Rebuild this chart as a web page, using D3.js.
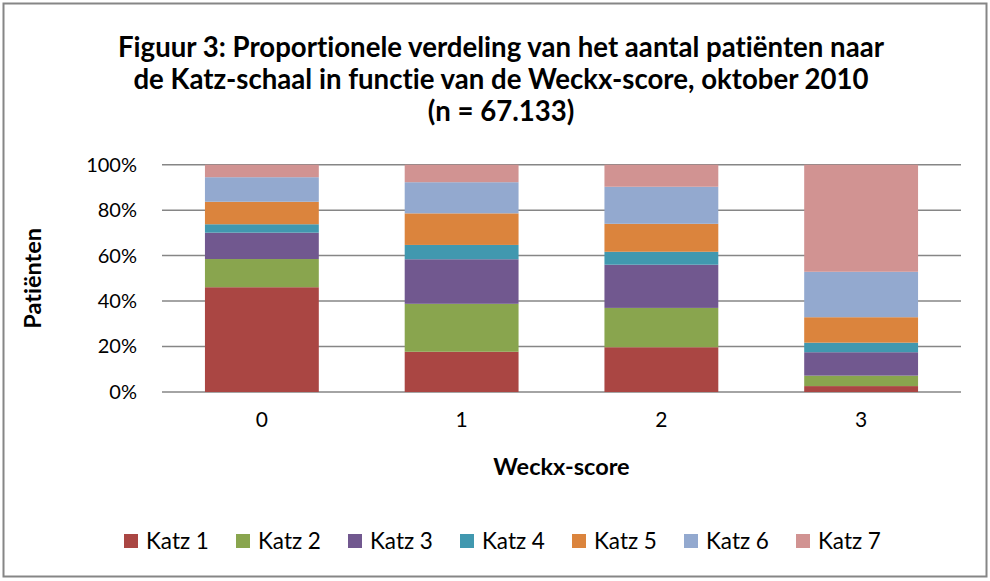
<!DOCTYPE html>
<html>
<head>
<meta charset="utf-8">
<script src="https://cdn.jsdelivr.net/npm/d3@7"></script>
<style>
  html, body { margin: 0; padding: 0; background: #fff; }
  svg { display: block; font-family: Lato, "Open Sans", sans-serif; font-variant-ligatures: none; font-feature-settings: "liga" 0, "clig" 0; }
</style>
</head>
<body>
<svg id="chart" width="990" height="581"></svg>
<script>
const categories = ["0", "1", "2", "3"];
const seriesNames = ["Katz 1", "Katz 2", "Katz 3", "Katz 4", "Katz 5", "Katz 6", "Katz 7"];
const katz1 = [46.1, 17.7, 19.7, 2.6];
const katz2 = [12.4, 21.1, 17.3, 4.6];
const katz3 = [11.6, 19.6, 19.0, 10.3];
const katz4 = [3.7, 6.3, 5.7, 4.2];
const katz5 = [9.9, 13.9, 12.3, 11.2];
const katz6 = [10.8, 13.7, 16.3, 20.0];
const katz7 = [5.5, 7.7, 9.7, 47.1];
const yTicks = [0, 0.2, 0.4, 0.6, 0.8, 1.0];
const colors = ["#AA4643", "#89A54E", "#71588F", "#4198AF", "#DB843D", "#93A9CF", "#D19392"];
const titleLines = [
  "Figuur 3: Proportionele verdeling van het aantal patiënten naar",
  "de Katz-schaal in functie van de Weckx-score, oktober 2010",
  "(n = 67.133)"
];

const allSeries = [katz1, katz2, katz3, katz4, katz5, katz6, katz7];
const rows = categories.map((c, i) => {
  const r = { cat: c };
  const total = d3.sum(allSeries, s => s[i]);
  seriesNames.forEach((n, k) => r[n] = allSeries[k][i] / total);
  return r;
});

const svg = d3.select("#chart");
const W = 990, H = 581;

// outer border
svg.append("rect").attr("x", 3.5).attr("y", 3.5).attr("width", W - 7).attr("height", H - 8)
  .attr("fill", "#fff").attr("stroke", "#868686").attr("stroke-width", 2);

const plot = { left: 162, right: 961, top: 164.7, bottom: 392 };

const x = d3.scaleBand().domain(categories).range([plot.left, plot.right]).paddingInner(0.43).paddingOuter(0.215);
const y = d3.scaleLinear().domain([0, 1]).range([plot.bottom, plot.top]);

// gridlines
svg.append("g").selectAll("line").data(yTicks).join("line")
  .attr("x1", plot.left).attr("x2", plot.right)
  .attr("y1", d => y(d)).attr("y2", d => y(d))
  .attr("stroke", "#868686").attr("stroke-width", 1.5);

// y axis labels
const yAxis = d3.axisLeft(y).tickValues(yTicks).tickFormat(d3.format(".0%")).tickSize(0).tickPadding(0);
const gy = svg.append("g").attr("transform", `translate(137,0)`).call(yAxis);
gy.select(".domain").remove();
gy.selectAll("text").attr("font-size", 20).attr("fill", "#000").attr("font-family", "Lato");

// stacked bars
const stack = d3.stack().keys(seriesNames);
const stacked = stack(rows);
svg.append("g").selectAll("g").data(stacked).join("g")
  .attr("fill", (d, i) => colors[i])
  .selectAll("rect").data(d => d).join("rect")
  .attr("x", d => x(d.data.cat))
  .attr("width", x.bandwidth())
  .attr("y", d => y(d[1]))
  .attr("height", d => y(d[0]) - y(d[1]));

// x axis
const xAxis = d3.axisBottom(x).tickSize(0).tickPadding(0);
const gx = svg.append("g").attr("transform", `translate(0,${plot.bottom + 30})`).call(xAxis);
gx.select(".domain").remove();
gx.selectAll("text").attr("font-size", 21).attr("fill", "#000").attr("font-family", "Lato").attr("dy", "0.25em");

// titles
const title = svg.append("text").attr("text-anchor", "middle").attr("font-weight", "bold")
  .attr("font-size", 27.6).attr("fill", "#000");
titleLines.forEach((t, i) => {
  title.append("tspan").attr("x", 501).attr("y", 57 + i * 32).text(t);
});

svg.append("text").attr("x", (plot.left + plot.right) / 2).attr("y", 475)
  .attr("text-anchor", "middle").attr("font-weight", "bold").attr("font-size", 23.5).text("Weckx-score");

svg.append("text").attr("transform", `translate(41,${(plot.top + plot.bottom) / 2}) rotate(-90)`)
  .attr("text-anchor", "middle").attr("font-weight", "bold").attr("font-size", 23.5).text("Patiënten");

// legend
const legend = svg.append("g").selectAll("g").data(seriesNames).join("g")
  .attr("transform", (d, i) => `translate(${124 + i * 112},534)`);
legend.append("rect").attr("width", 14).attr("height", 14).attr("fill", (d, i) => colors[i]);
legend.append("text").attr("x", 22).attr("y", 14.5).attr("font-size", 22.5).attr("fill", "#000").text(d => d);
</script>
</body>
</html>
